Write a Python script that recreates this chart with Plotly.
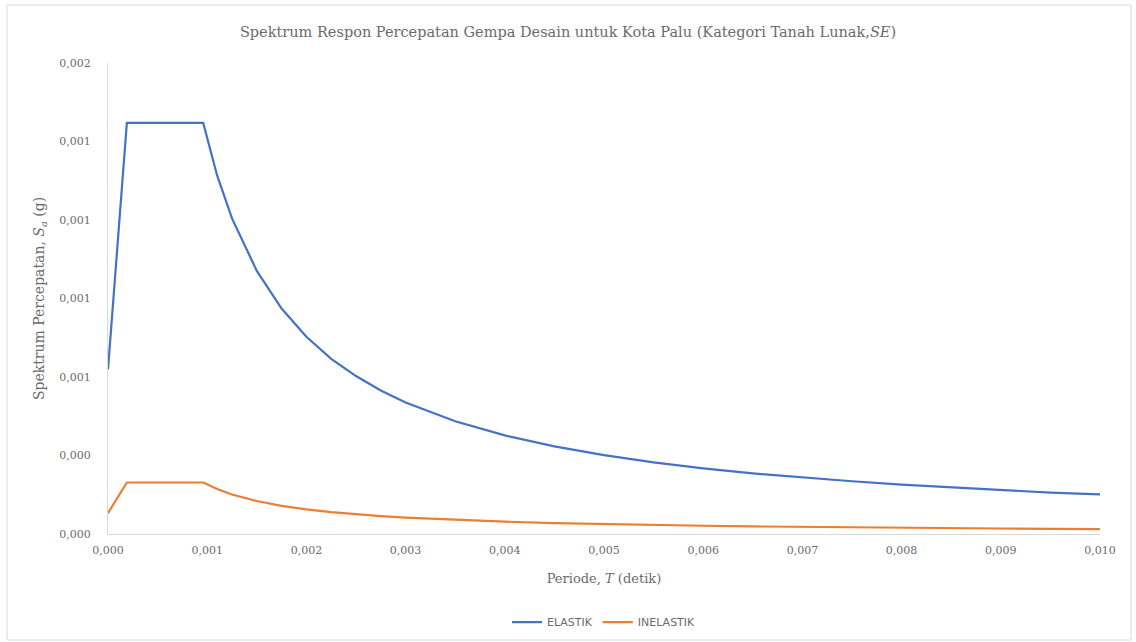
import plotly.graph_objects as go

periode = [0.0, 0.00019, 0.00096, 0.00110, 0.00125, 0.00150, 0.00175, 0.00200, 0.00225,
           0.00250, 0.00275, 0.00300, 0.00350, 0.00400, 0.00450, 0.00500, 0.00550,
           0.00600, 0.00650, 0.00700, 0.00750, 0.00800, 0.00850, 0.00900, 0.00950, 0.01000]

elastik = [0.000524, 0.001309, 0.001309, 0.001142, 0.001005, 0.000838, 0.000718, 0.000628,
           0.000558, 0.000503, 0.000457, 0.000419, 0.000359, 0.000314, 0.000279, 0.000251,
           0.000228, 0.000209, 0.000193, 0.000180, 0.000168, 0.000157, 0.000148, 0.000140,
           0.000132, 0.000126]

inelastik = [0.0000665, 0.000164, 0.000164, 0.000143, 0.000126, 0.000105, 0.0000898,
             0.0000785, 0.0000698, 0.0000629, 0.0000571, 0.0000524, 0.0000449, 0.0000393,
             0.0000349, 0.0000314, 0.0000285, 0.0000262, 0.0000242, 0.0000225, 0.0000210,
             0.0000196, 0.0000185, 0.0000175, 0.0000165, 0.0000157]

x_tickvals = [0.000, 0.001, 0.002, 0.003, 0.004, 0.005, 0.006, 0.007, 0.008, 0.009, 0.010]
x_ticktext = ["0,000", "0,001", "0,002", "0,003", "0,004", "0,005", "0,006", "0,007",
              "0,008", "0,009", "0,010"]
y_tickvals = [0.0, 0.00025, 0.0005, 0.00075, 0.001, 0.00125, 0.0015]
y_ticktext = ["0,000", "0,000", "0,001", "0,001", "0,001", "0,001", "0,002"]

SERIF = "DejaVu Serif"
TXT = "#6b6b6b"

fig = go.Figure()
fig.add_trace(go.Scatter(x=periode, y=elastik, mode="lines", name="ELASTIK",
                         line=dict(color="#4472C4", width=2.2)))
fig.add_trace(go.Scatter(x=periode, y=inelastik, mode="lines", name="INELASTIK",
                         line=dict(color="#ED7D31", width=2.2)))

fig.update_layout(
    width=1136, height=642,
    margin=dict(l=108, r=36, t=63, b=108, autoexpand=False),
    paper_bgcolor="white", plot_bgcolor="white",
    title=dict(text="Spektrum Respon Percepatan Gempa Desain untuk Kota Palu (Kategori Tanah Lunak,<i>SE</i>)",
               x=0.5, xanchor="center", y=0.951, yanchor="middle",
               font=dict(family=SERIF, size=14.5, color=TXT)),
    showlegend=True,
    legend=dict(orientation="h", x=0.5, xanchor="center", y=-0.187, yanchor="middle",
                font=dict(family="DejaVu Sans", size=11, color=TXT),
                itemwidth=30, tracegroupgap=0),
    xaxis=dict(range=[0, 0.010], tickvals=x_tickvals, ticktext=x_ticktext,
               showgrid=False, zeroline=False, showline=True, linecolor="#d9d9d9",
               linewidth=1, ticks="", ticklabelstandoff=6,
               tickfont=dict(family=SERIF, size=11, color=TXT),
               title=dict(text="Periode, <i>T</i> (detik)", standoff=17,
                          font=dict(family=SERIF, size=13, color=TXT))),
    yaxis=dict(range=[0, 0.0015], tickvals=y_tickvals, ticktext=y_ticktext,
               showgrid=False, zeroline=False, showline=True, linecolor="#d9d9d9",
               linewidth=1, ticks="", ticklabelstandoff=14,
               tickfont=dict(family=SERIF, size=11, color=TXT),
               title=dict(text="Spektrum Percepatan, <i>S</i><sub><i>a</i></sub> (g)", standoff=11,
                          font=dict(family=SERIF, size=14, color=TXT))),
)

fig.add_shape(type="rect", xref="paper", yref="paper",
              x0=(7 - 108) / 992, x1=(1131 - 108) / 992,
              y0=(534 - 640) / 471, y1=(534 - 5) / 471,
              line=dict(color="#d9d9d9", width=1), fillcolor="rgba(0,0,0,0)", layer="below")

fig.write_html("out.html", config={"displayModeBar": False},
               post_script="document.body.style.margin='0';")
